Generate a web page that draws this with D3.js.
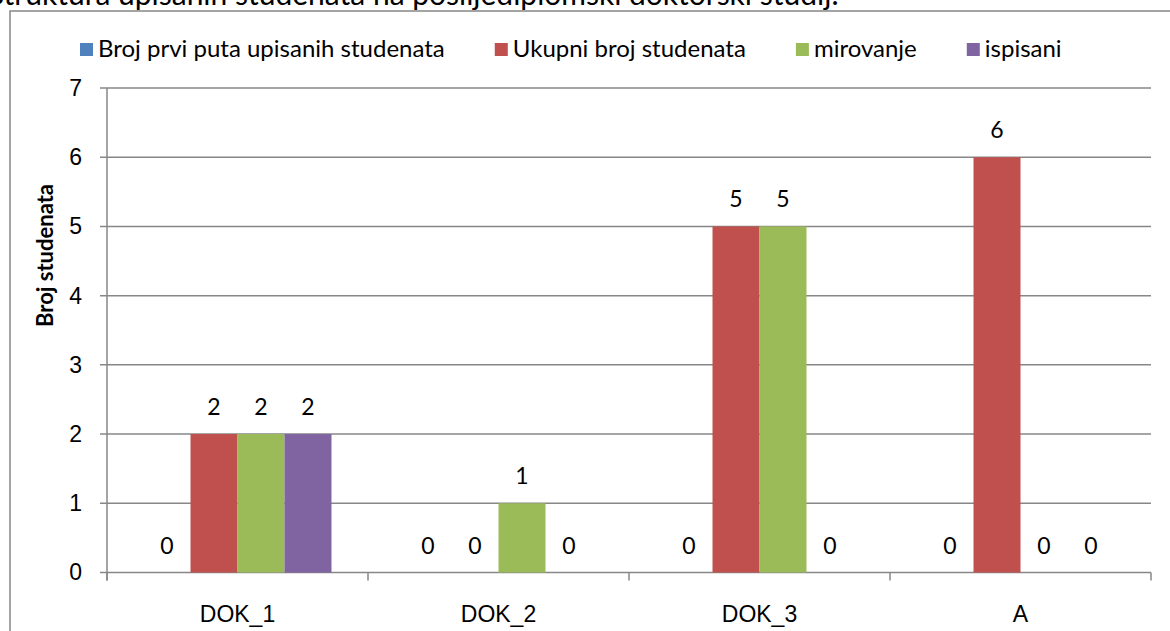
<!DOCTYPE html>
<html>
<head>
<meta charset="utf-8">
<script src="https://d3js.org/d3.v7.min.js"></script>
<style>
  body { margin: 0; background: #fff; }
  svg { display: block; font-family: Lato, "Open Sans", sans-serif; }
</style>
</head>
<body>
<div id="chart"></div>
<script>
// podaci
const categories = ["DOK_1", "DOK_2", "DOK_3", "A"];
const seriesNames = ["Broj prvi puta upisanih studenata", "Ukupni broj studenata", "mirovanje", "ispisani"];
const seriesColors = ["#4F81BD", "#C0504D", "#9BBB59", "#8064A2"];
const prviPuta = [0, 0, 0, 0];
const ukupno = [2, 0, 5, 6];
const mirovanje = [2, 1, 5, 0];
const ispisani = [2, 0, 0, 0];
const yTicks = [0, 1, 2, 3, 4, 5, 6, 7];
const titleText = "Struktura upisanih studenata na poslijediplomski doktorski studij.";
const yTitle = "Broj studenata";

const seriesValues = [prviPuta, ukupno, mirovanje, ispisani];

const width = 1170;
const height = 631;
const plot = { left: 107, right: 1151, top: 88, bottom: 572.5 };
const gridColor = "#878787";

const svg = d3.select("#chart").append("svg")
  .attr("width", width)
  .attr("height", height);

// naslov (odrezan na vrhu)
svg.append("text")
  .attr("x", -12)
  .attr("y", 5)
  .attr("font-size", 30)
  .attr("fill", "#000")
  .text(titleText);

// okvir grafikona
svg.append("rect")
  .attr("x", 10)
  .attr("y", 11)
  .attr("width", 1200)
  .attr("height", 700)
  .attr("fill", "none")
  .attr("stroke", gridColor)
  .attr("stroke-width", 1.5);

const y = d3.scaleLinear().domain([0, 7]).range([plot.bottom, plot.top]);
const x0 = d3.scaleBand().domain(categories).range([plot.left, plot.right]).padding(0);
const x1 = d3.scaleBand().domain(seriesNames).range([0, x0.bandwidth()])
  .paddingInner(0).paddingOuter(0.777);

// mreža
svg.append("g")
  .selectAll("line")
  .data(yTicks)
  .join("line")
  .attr("x1", plot.left - 7)
  .attr("x2", plot.right)
  .attr("y1", d => y(d))
  .attr("y2", d => y(d))
  .attr("stroke", gridColor)
  .attr("stroke-width", 1.5);

// stupci
const groups = svg.append("g")
  .selectAll("g")
  .data(categories)
  .join("g")
  .attr("transform", d => `translate(${x0(d)},0)`);

const cells = groups.selectAll("g")
  .data((c, ci) => seriesNames.map((s, si) => ({ s, si, v: seriesValues[si][ci] })))
  .join("g");

cells.append("rect")
  .attr("x", d => x1(d.s))
  .attr("width", x1.bandwidth())
  .attr("y", d => y(d.v))
  .attr("height", d => y(0) - y(d.v))
  .attr("fill", d => seriesColors[d.si]);

cells.append("text")
  .attr("x", d => x1(d.s) + x1.bandwidth() / 2)
  .attr("y", d => y(d.v) - 19)
  .attr("text-anchor", "middle")
  .attr("font-size", 23)
  .attr("fill", "#000")
  .text(d => d.v);

// osi
svg.append("line")
  .attr("x1", plot.left).attr("x2", plot.left)
  .attr("y1", plot.top).attr("y2", plot.bottom + 8)
  .attr("stroke", gridColor)
  .attr("stroke-width", 1.5);

const tickXs = categories.map(c => x0(c)).concat([plot.right]);
svg.append("g")
  .selectAll("line")
  .data(tickXs)
  .join("line")
  .attr("x1", d => d).attr("x2", d => d)
  .attr("y1", plot.bottom).attr("y2", plot.bottom + 8)
  .attr("stroke", gridColor)
  .attr("stroke-width", 1.5);

const yAxis = svg.append("g")
  .attr("transform", `translate(${plot.left},0)`)
  .call(d3.axisLeft(y).tickValues(yTicks).tickFormat(d3.format("d")).tickSize(0).tickPadding(25));
yAxis.select(".domain").remove();
yAxis.selectAll("text").attr("font-size", 23).attr("font-family", null).attr("fill", "#000");

const xAxis = svg.append("g")
  .attr("transform", `translate(0,${plot.bottom})`)
  .call(d3.axisBottom(x0).tickSize(0).tickPadding(33));
xAxis.select(".domain").remove();
xAxis.selectAll("text").attr("font-size", 23).attr("font-family", null).attr("fill", "#000");

// naslov osi y
svg.append("text")
  .attr("transform", "translate(53,327) rotate(-90)")
  .attr("text-anchor", "start")
  .attr("font-size", 22)
  .attr("font-weight", "bold")
  .attr("fill", "#000")
  .text(yTitle);

// legenda
const legend = svg.append("g");
let lx = 80;
seriesNames.forEach((name, i) => {
  legend.append("rect")
    .attr("x", lx)
    .attr("y", 43)
    .attr("width", 13)
    .attr("height", 13)
    .attr("fill", seriesColors[i]);
  const t = legend.append("text")
    .attr("x", lx + 18)
    .attr("y", 57)
    .attr("font-size", 24)
    .attr("fill", "#000")
    .text(name);
  lx += 18 + t.node().getComputedTextLength() + 50;
});
</script>
</body>
</html>
